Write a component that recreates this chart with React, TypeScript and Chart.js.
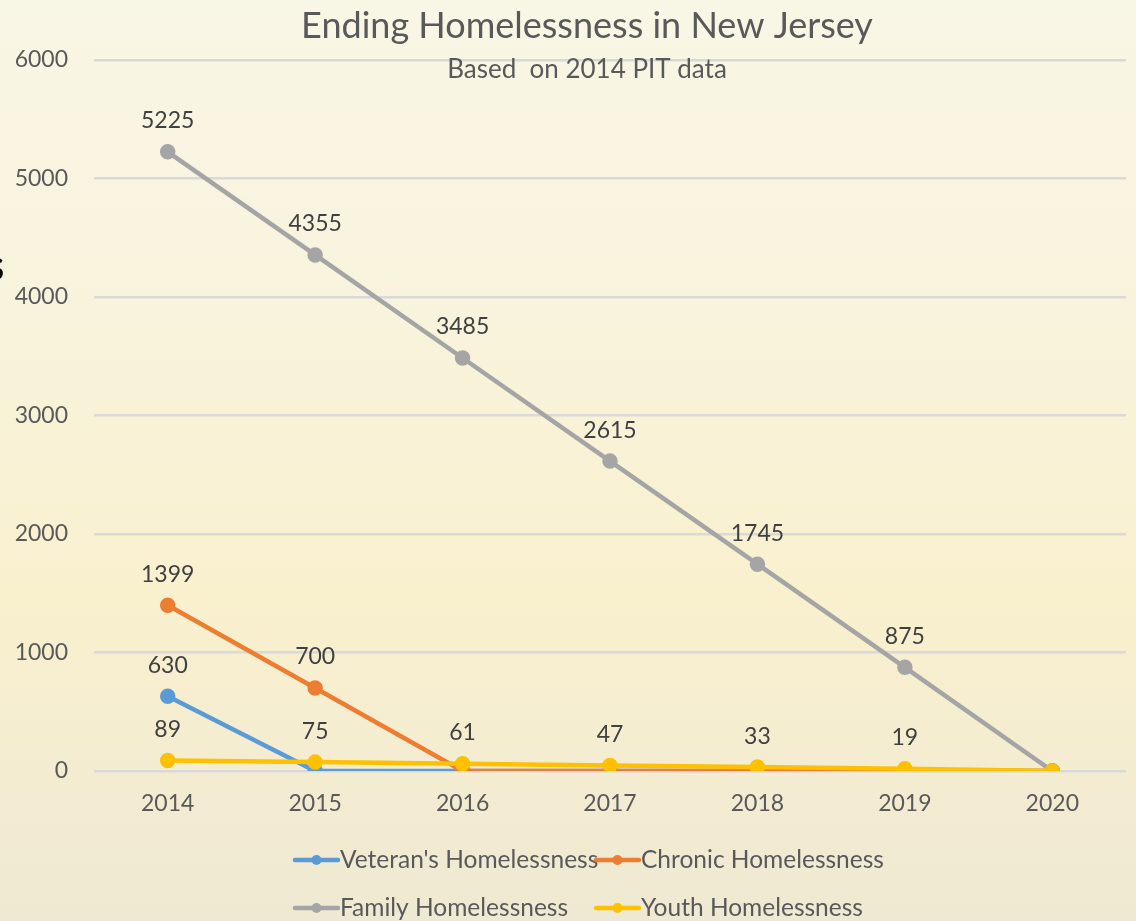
import { useEffect, useRef } from "react";
import { Chart, registerables } from "chart.js";

Chart.register(...registerables);

// ---- data ----
const years = ["2014", "2015", "2016", "2017", "2018", "2019", "2020"];
const veteranValues = [630, 0, 0, 0, 0, 0, 0];
const chronicValues = [1399, 700, 0, 0, 0, 0, 0];
const familyValues = [5225, 4355, 3485, 2615, 1745, 875, 0];
const youthValues = [89, 75, 61, 47, 33, 19, 0];
const seriesNames = [
  "Veteran's Homelessness",
  "Chronic Homelessness",
  "Family Homelessness",
  "Youth Homelessness",
];
const seriesColors = ["#5B9BD5", "#ED7D31", "#A5A5A5", "#FFC000"];
const yMin = 0;
const yMax = 6000;
const yStep = 1000;
const titleText = "Ending Homelessness in New Jersey";
const subtitleText = "Based  on 2014 PIT data";

const FONT = "Lato, 'Open Sans', sans-serif";
const TEXT_GREY = "#595959";

const backgroundPlugin = {
  id: "bg",
  beforeDraw(chart: any) {
    const { ctx, width, height } = chart;
    ctx.save();
    const g = ctx.createLinearGradient(0, 0, 0, height);
    g.addColorStop(0, "#F8F6E5");
    g.addColorStop(0.35, "#F8F3DC");
    g.addColorStop(0.65, "#F9F0CE");
    g.addColorStop(1, "#EFE9D3");
    ctx.fillStyle = g;
    ctx.fillRect(0, 0, width, height);
    ctx.restore();
  },
};

const titlePlugin = {
  id: "titles",
  afterDraw(chart: any) {
    const { ctx } = chart;
    ctx.save();
    ctx.fillStyle = TEXT_GREY;
    ctx.textAlign = "center";
    ctx.textBaseline = "middle";
    ctx.font = `36px ${FONT}`;
    ctx.fillText(titleText, 587, 26);
    ctx.font = `26px ${FONT}`;
    ctx.fillText(subtitleText, 587, 70);
    // cut-off glyph at the left edge
    ctx.fillStyle = "#000";
    ctx.textAlign = "right";
    ctx.font = `bold 30px ${FONT}`;
    ctx.fillText("S", 4, 270);
    ctx.restore();
  },
};

const dataLabelPlugin = {
  id: "dataLabels",
  afterDatasetsDraw(chart: any) {
    const { ctx } = chart;
    ctx.save();
    ctx.fillStyle = "#404040";
    ctx.textAlign = "center";
    ctx.textBaseline = "middle";
    ctx.font = `23px ${FONT}`;
    chart.data.datasets.forEach((ds: any, di: number) => {
      const meta = chart.getDatasetMeta(di);
      meta.data.forEach((pt: any, i: number) => {
        const v = ds.data[i];
        if (v > 0) ctx.fillText(String(v), pt.x, pt.y - 31);
      });
    });
    ctx.restore();
  },
};

const legendPlugin = {
  id: "customLegend",
  afterDraw(chart: any) {
    const { ctx } = chart;
    const cols = [293, 594];
    const rows = [860, 908];
    ctx.save();
    ctx.font = `24.5px ${FONT}`;
    ctx.textBaseline = "middle";
    ctx.textAlign = "left";
    seriesNames.forEach((name, i) => {
      const x = cols[i % 2];
      const y = rows[Math.floor(i / 2)];
      ctx.strokeStyle = seriesColors[i];
      ctx.lineWidth = 4.5;
      ctx.lineCap = "round";
      ctx.beginPath();
      ctx.moveTo(x + 2, y);
      ctx.lineTo(x + 45, y);
      ctx.stroke();
      ctx.fillStyle = seriesColors[i];
      ctx.beginPath();
      ctx.arc(x + 23.5, y, 5, 0, Math.PI * 2);
      ctx.fill();
      ctx.fillStyle = TEXT_GREY;
      ctx.fillText(name, x + 47, y);
    });
    ctx.restore();
  },
};

export default function App() {
  const canvasRef = useRef<HTMLCanvasElement | null>(null);

  useEffect(() => {
    if (!canvasRef.current) return;
    const allValues = [veteranValues, chronicValues, familyValues, youthValues];
    const drawOrder = [3, 2, 1, 0];
    const chart = new Chart(canvasRef.current, {
      type: "line",
      data: {
        labels: years,
        datasets: allValues.map((vals, i) => ({
          label: seriesNames[i],
          data: vals,
          borderColor: seriesColors[i],
          backgroundColor: seriesColors[i],
          pointBackgroundColor: seriesColors[i],
          pointBorderColor: seriesColors[i],
          borderWidth: 4.5,
          pointRadius: 5.5,
          pointHoverRadius: 5.5,
          tension: 0,
          fill: false,
          order: drawOrder[i],
        })),
      },
      options: {
        animation: false,
        responsive: false,
        maintainAspectRatio: false,
        layout: { padding: { top: 60, right: 8, left: 0, bottom: 0 } },
        plugins: {
          legend: { display: false },
          title: { display: false },
          tooltip: { enabled: false },
        },
        scales: {
          x: {
            type: "category",
            offset: true,
            grid: { display: false, drawTicks: false },
            border: { display: false },
            ticks: {
              color: TEXT_GREY,
              font: { family: FONT, size: 23 },
              padding: 19,
              maxRotation: 0,
            },
            afterFit: (scale: any) => {
              scale.height = 150;
            },
          },
          y: {
            min: yMin,
            max: yMax,
            grid: { color: "#D9D9D9", lineWidth: 2.5, drawTicks: false },
            border: { display: false },
            ticks: {
              stepSize: yStep,
              color: TEXT_GREY,
              font: { family: FONT, size: 23 },
              padding: 26,
              callback: (v: any) => String(v),
            },
            afterFit: (scale: any) => {
              scale.width = 94;
            },
          },
        },
      },
      plugins: [backgroundPlugin, dataLabelPlugin, titlePlugin, legendPlugin],
    } as any);
    return () => chart.destroy();
  }, []);

  return (
    <div style={{ position: "fixed", left: 0, top: 0, width: 1136, height: 921 }}>
      <canvas ref={canvasRef} width={1136} height={921} style={{ display: "block" }} />
    </div>
  );
}
